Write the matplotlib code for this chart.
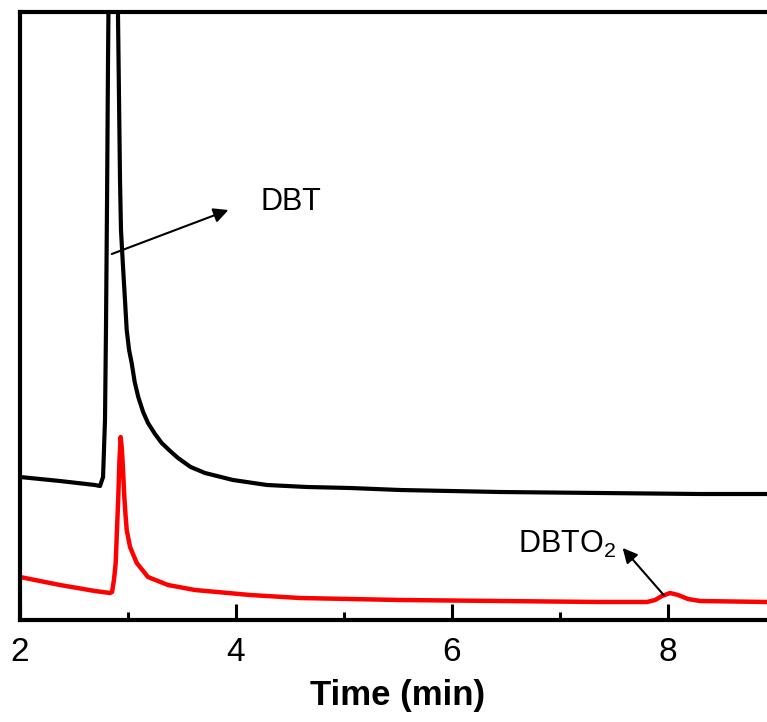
import numpy as np
import matplotlib.pyplot as plt

plt.rcParams['font.family'] = ['Liberation Sans', 'DejaVu Sans']
plt.rcParams['mathtext.fontset'] = 'custom'
plt.rcParams['mathtext.rm'] = 'Liberation Sans'

# chromatogram traces (time in min, detector signal in arbitrary units)
t_black = [2.000, 2.370, 2.694, 2.741, 2.769, 2.787, 2.796, 2.806, 2.815, 2.824,
           2.860, 2.903, 2.907, 2.917, 2.926, 2.935, 2.954, 2.972, 2.988, 3.010,
           3.034, 3.062, 3.095, 3.140, 3.185, 3.250, 3.312, 3.390, 3.463, 3.580,
           3.713, 3.972, 4.287, 4.657, 5.056, 5.519, 6.444, 7.370, 8.296, 8.917]
s_black = [143, 139, 135, 134, 143, 200, 290, 420, 560, 670,
           900, 670, 608, 520, 440, 390, 353, 320, 290, 270,
           257, 238, 223, 208, 197, 186, 177, 169, 162, 153,
           147, 140, 135, 133, 132, 130, 128, 127, 126, 126]

t_red = [2.000, 2.370, 2.694, 2.833, 2.852, 2.870, 2.886, 2.898, 2.910, 2.921,
         2.932, 2.944, 2.954, 2.966, 2.977, 2.988, 3.019, 3.081, 3.185, 3.370,
         3.620, 4.130, 4.593, 5.519, 6.444, 7.370, 7.806, 7.880, 7.944, 8.019,
         8.093, 8.185, 8.296, 8.917]
s_red = [43, 35, 29, 27, 28, 40, 57, 90, 123, 160,
         183, 170, 150, 123, 105, 90, 73, 57, 43, 35,
         30, 25, 22, 20, 19, 18, 18, 20, 24, 27,
         25, 21, 19, 18]

xticks_major = [2, 4, 6, 8]
xticks_minor = [3, 5, 7]

fig = plt.figure(figsize=(7.67, 7.22), dpi=100)
ax = fig.add_axes([20 / 767, 102 / 722, 756 / 767, 608 / 722])

ax.plot(t_black, s_black, color='black', lw=3.0, solid_joinstyle='round')
ax.plot(t_red, s_red, color='red', lw=3.2, solid_joinstyle='round')

ax.set_xlim(2, 9)
ax.set_ylim(0, 608)
ax.set_yticks([])
ax.set_xticks(xticks_major)
ax.set_xticks(xticks_minor, minor=True)
ax.tick_params(axis='x', which='major', direction='in', length=11.5, width=2.2,
               labelsize=24, pad=12)
ax.tick_params(axis='x', which='minor', direction='in', length=6, width=2.2)

for side in ['left', 'bottom', 'top']:
    ax.spines[side].set_linewidth(3)
ax.spines['right'].set_visible(False)

ax.set_xlabel('Time (min)', fontsize=25, fontweight='bold', labelpad=8)

# peak labels with arrows
ax.annotate('', xy=(3.93, 410), xytext=(2.85, 366),
            arrowprops=dict(arrowstyle='-|>', color='black', lw=1.5,
                            mutation_scale=22, shrinkA=0, shrinkB=0))
ax.text(4.23, 418, 'DBT', fontsize=22, ha='left', va='center')

ax.annotate('', xy=(7.58, 72), xytext=(7.96, 25),
            arrowprops=dict(arrowstyle='-|>', color='black', lw=1.5,
                            mutation_scale=22, shrinkA=0, shrinkB=0))
ax.text(6.61, 76, r'DBTO$_2$', fontsize=22, ha='left', va='center')

fig.savefig('out.png', dpi=100)
